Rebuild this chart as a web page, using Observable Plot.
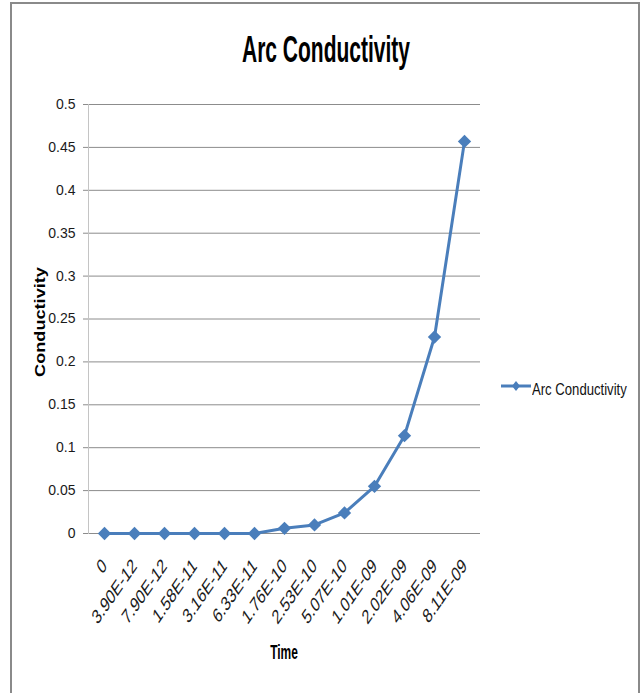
<!DOCTYPE html>
<html>
<head>
<meta charset="utf-8">
<script src="https://cdn.jsdelivr.net/npm/d3@7"></script>
<script src="https://cdn.jsdelivr.net/npm/@observablehq/plot@0.6"></script>
<style>
  html, body { margin: 0; padding: 0; background: #fff; }
  #chart { position: relative; width: 641px; height: 693px; overflow: hidden; background: #fff; }
  #chart svg.plot { position: absolute; left: 0; top: 0; }
  .border { position: absolute; left: 10px; top: 2px; width: 626px; height: 760px; border: 2px solid #8a8a8a; }
  .title { position: absolute; left: 326px; top: 32px; font: bold 25.6px "Liberation Sans", Arial, sans-serif; line-height: 1;
           white-space: nowrap; color: #000; transform: translateX(-50%) scale(0.82, 1.43); transform-origin: 50% 0; }
  .xlabel { position: absolute; left: 284px; top: 642px; font: bold 14.6px "Liberation Sans", Arial, sans-serif; line-height: 1;
            white-space: nowrap; color: #000; transform: translateX(-50%) scale(0.82, 1.43); transform-origin: 50% 0; }
  .ylabel { position: absolute; left: 40px; top: 322px; font: bold 15.5px "Liberation Sans", Arial, sans-serif; line-height: 1;
            white-space: nowrap; color: #000; transform: translate(-50%, -50%) rotate(-90deg) scaleX(1.17); }
  .legend { position: absolute; left: 500px; top: 380px; width: 141px; height: 20px; }
  .legend svg { position: absolute; left: 0; top: 0; display: block; }
  .legend span { position: absolute; left: 32px; top: 1.5px; font: 16px "Liberation Sans", Arial, sans-serif; line-height: 1;
                 color: #111; white-space: nowrap; transform: scaleX(0.82); transform-origin: 0 0; }
</style>
</head>
<body>
<div id="chart"></div>
<script>
// Arc conductivity over time (categorical time steps)
const times = ["0", "3.90E-12", "7.90E-12", "1.58E-11", "3.16E-11", "6.33E-11", "1.76E-10",
               "2.53E-10", "5.07E-10", "1.01E-09", "2.02E-09", "4.06E-09", "8.11E-09"];
const conductivity = [0, 0, 0, 0, 0, 0, 0.006, 0.010, 0.024, 0.055, 0.114, 0.229, 0.457];
const yTicks = [0, 0.05, 0.1, 0.15, 0.2, 0.25, 0.3, 0.35, 0.4, 0.45, 0.5];
const seriesName = "Arc Conductivity";
const chartTitle = "Arc Conductivity";
const xTitle = "Time";
const yTitle = "Conductivity";
const seriesColor = "#4a7ebb";

const data = times.map((t, i) => ({time: t, value: conductivity[i]}));

const plot = Plot.plot({
  width: 641,
  height: 693,
  marginLeft: 88,
  marginRight: 161,
  marginTop: 104,
  marginBottom: 160,
  style: {fontFamily: "Liberation Sans", fontSize: "14px", color: "#1a1a1a", background: "transparent"},
  x: {type: "point", domain: times, padding: 0.5, label: null},
  y: {domain: [0, 0.5], label: null},
  marks: [
    Plot.gridY(yTicks, {stroke: "#8c8c8c", strokeOpacity: 1}),
    Plot.frame({anchor: "left", stroke: "#c4c4c4"}),
    Plot.axisY(yTicks, {tickSize: 5, tickPadding: 8, stroke: "#8c8c8c", tickFormat: d => String(d), label: null}),
    Plot.axisX({tickSize: 0, tickPadding: 29, tickRotate: -45, textAnchor: "end", lineAnchor: "middle", label: null}),
    Plot.line(data, {x: "time", y: "value", stroke: seriesColor, strokeWidth: 3}),
    Plot.dot(data, {x: "time", y: "value", symbol: "diamond2", r: 6, fill: seriesColor, stroke: "none"})
  ]
});
plot.classList.add("plot");

// Time labels are slanted and drawn taller than wide
d3.select(plot).selectAll('g[aria-label="x-axis tick label"] text').each(function () {
  const t = this.getAttribute("transform");
  if (t && t.includes("rotate(")) this.setAttribute("transform", t.replace("rotate(", "scale(1,1.45) rotate("));
});

const chart = d3.select("#chart");
chart.append("div").attr("class", "border");
chart.node().appendChild(plot);
chart.append("div").attr("class", "title").text(chartTitle);
chart.append("div").attr("class", "xlabel").text(xTitle);
chart.append("div").attr("class", "ylabel").text(yTitle);

const legend = chart.append("div").attr("class", "legend");
const sw = legend.append("svg").attr("width", 32).attr("height", 12);
sw.append("line").attr("x1", 1).attr("x2", 31).attr("y1", 6).attr("y2", 6)
  .attr("stroke", seriesColor).attr("stroke-width", 3);
sw.append("path").attr("d", "M16,1L20,6L16,11L12,6Z").attr("fill", seriesColor);
legend.append("span").text(seriesName);
</script>
</body>
</html>
